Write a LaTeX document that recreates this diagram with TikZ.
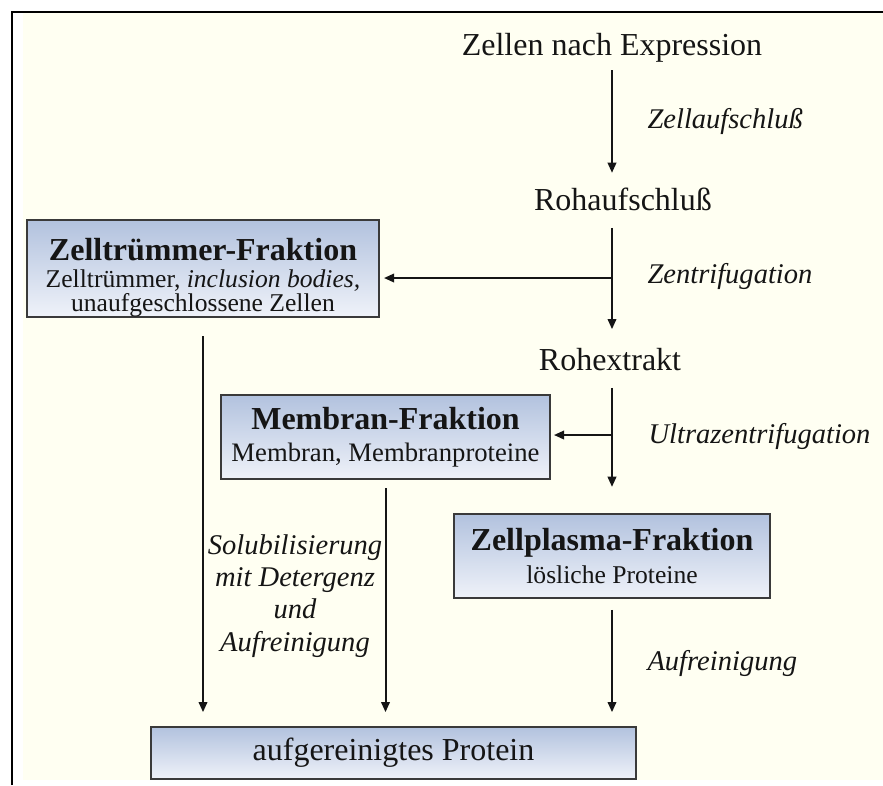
\documentclass[tikz,border=0pt]{standalone}
\usepackage{fontspec}
\setmainfont{Liberation Serif}
\usetikzlibrary{arrows.meta}

\definecolor{paper}{HTML}{FFFFF2}
\definecolor{boxtop}{HTML}{B2C2DE}
\definecolor{boxbot}{HTML}{EFF2F9}
\definecolor{boxline}{HTML}{3A3A3A}
\definecolor{inkcolor}{HTML}{151515}

\begin{document}
\begin{tikzpicture}[
    x=0.375pt, y=-0.375pt,
    flow/.style={-{Triangle[length=3.8pt, width=3.2pt]}, line width=0.75pt, inkcolor},
    stage/.style={font=\fontsize{12}{14}\selectfont, text=inkcolor, anchor=base, inner sep=0pt},
    stepnote/.style={font=\fontsize{10.7}{12.1}\selectfont\itshape, text=inkcolor, anchor=base west, inner sep=0pt},
    fraction/.style={draw=boxline, line width=0.75pt, top color=boxtop, bottom color=boxbot,
        align=center, inner sep=0pt, text=inkcolor, font=\fontsize{10}{9}\selectfont},
]

% Frame
\useasboundingbox (0,0) rectangle (883,785);
\fill[paper] (23,13) rectangle (883,780);
\draw[line width=0.8pt] (12,785) -- (12,12) -- (883,12);

% Main column
\node[stage] (expr) at (612,55) {Zellen nach Expression};
\node[stage] (rohauf) at (623,210) {Rohaufschluß};
\node[stage] (rohex) at (610,370) {Rohextrakt};

% Fractions
\node[fraction, minimum width=132pt, minimum height=35.6pt,
    font=\fontsize{9.6}{8.8}\selectfont] (zt) at (203,268.5)
    {\rule{0pt}{15pt}{\fontsize{12}{13}\selectfont\bfseries Zelltrümmer-Fraktion}\\[1.5pt]
     Zelltrümmer, \textit{inclusion bodies,}\\ unaufgeschlossene Zellen};
\node[fraction, minimum width=123.4pt, minimum height=31.5pt] (mb) at (385.5,437)
    {{\fontsize{12}{13}\selectfont\bfseries Membran-Fraktion}\\[3pt]
     Membran, Membranproteine};
\node[fraction, minimum width=118.5pt, minimum height=31.5pt,
    font=\fontsize{9.6}{9}\selectfont] (zp) at (612,556)
    {{\fontsize{12}{13}\selectfont\bfseries Zellplasma-Fraktion}\\[2.5pt]
     lösliche Proteine};
\node[fraction, minimum width=181.9pt, minimum height=19.5pt,
    font=\fontsize{12}{14}\selectfont] (prot) at (393.5,753) {aufgereinigtes Protein};

% Step labels
\node[stepnote] (lysis) at (647,128) {Zellaufschluß};
\node[stepnote] (spin) at (647,283) {Zentrifugation};
\node[stepnote] (ultra) at (648,443) {Ultrazentrifugation};
\node[stepnote] (purify) at (647,670) {Aufreinigung};
\node[stepnote, anchor=north, align=center] (solub) at (295,534)
    {Solubilisierung\\mit Detergenz\\und\\Aufreinigung};

% Arrows
\draw[flow, shorten <=3pt, shorten >=5.3pt] (expr.south) -- (expr.south |- rohauf.north);
\draw[flow, shorten <=6.4pt, shorten >=6.8pt] (rohauf.south -| expr.south) -- (expr.south |- rohex.north);
\draw[flow, shorten <=6.4pt, shorten >=9.8pt] (rohex.south -| expr.south) -- (expr.south |- zp.north);

\coordinate (split1) at (612,278);
\coordinate (split2) at (612,435);
\draw[flow, shorten >=1.5pt] (split1) -- (split1 -| zt.east);
\draw[flow, shorten >=1.1pt] (split2) -- (split2 -| mb.east);

\draw[flow, shorten <=7pt, shorten >=5.2pt] (zt.south) -- (zt.south |- prot.north);
\draw[flow, shorten <=3pt, shorten >=5.2pt] (mb.south) -- (mb.south |- prot.north);
\draw[flow, shorten <=4.1pt, shorten >=5.2pt] (zp.south) -- (zp.south |- prot.north);

\end{tikzpicture}
\end{document}
